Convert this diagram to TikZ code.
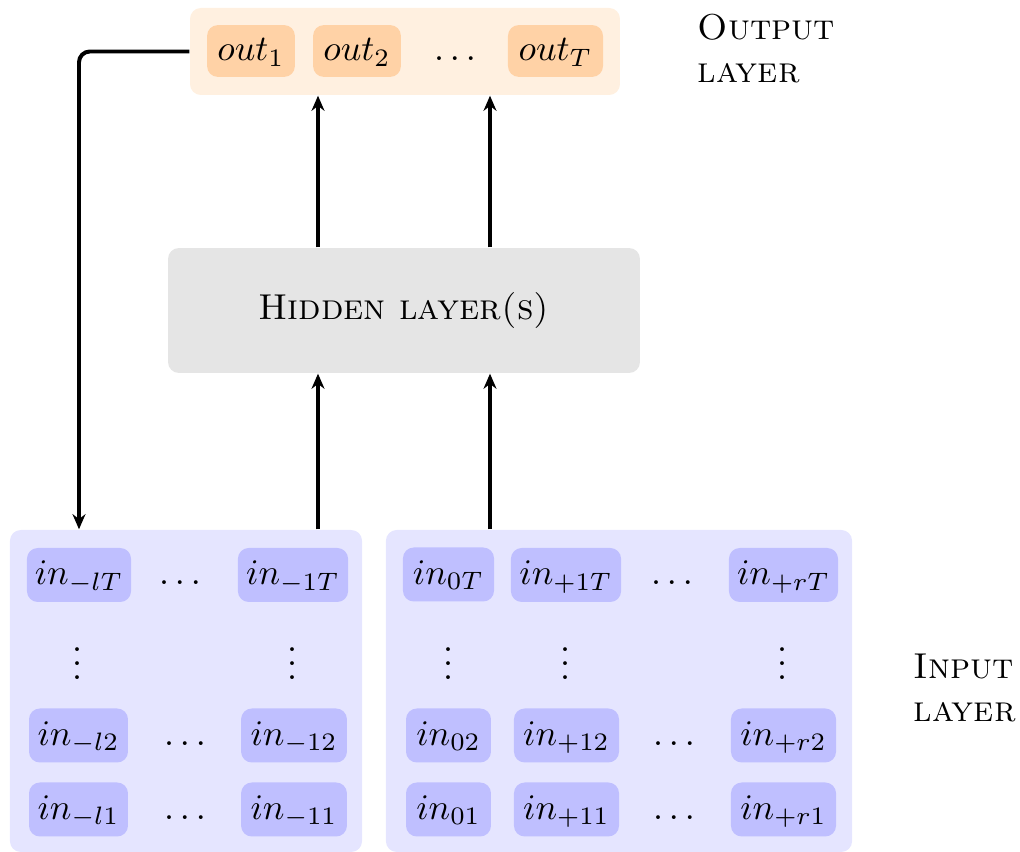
\documentclass[tikz,border=0pt]{standalone}
\usetikzlibrary{arrows.meta,calc}
\begin{document}
\begin{tikzpicture}[x=0.2778pt,y=-0.2778pt,
  cont/.style={rounded corners=3pt,inner sep=0pt},
  outc/.style={cont,fill=orange!12},
  inc/.style={cont,fill=blue!10},
  hid/.style={cont,fill=gray!20},
  cell/.style={rounded corners=3pt,inner xsep=2pt,inner ysep=0pt,text height=1.5ex,text depth=0.25ex},
  ocell/.style={cell,fill=orange!35,minimum height=14.4pt},
  icell/.style={cell,fill=blue!25,minimum height=15pt},
  dts/.style={inner sep=0pt,text height=1.5ex,text depth=0.25ex},
  vdts/.style={inner sep=0pt,anchor=base},
  lbl/.style={anchor=north west,align=left,inner sep=0pt},
  arr/.style={line width=1.1pt,-{Stealth[length=4.2pt,width=3.6pt]}}]
\useasboundingbox (0,0) rectangle (1020,852);
% containers
\node[outc,minimum width=119.45pt,minimum height=24.17pt] (outbox) at (405,51.5) {};
\node[hid,minimum width=131.1pt,minimum height=34.7pt] (hidden) at (404,310.5) {\textsc{Hidden layer(s)}};
\node[inc,minimum width=97.8pt,minimum height=89.45pt] (inleft) at (186,691) {};
\node[inc,minimum width=129.5pt,minimum height=89.45pt] (inright) at (619,691) {};
% output cells
\node[ocell,minimum width=24.4pt] (o1) at (251,51) {$out_1$};
\node[ocell,minimum width=24.4pt] (o2) at (357,51) {$out_2$};
\node[dts] (od) at (455,51) {$\dots$};
\node[ocell,minimum width=26.4pt] (oT) at (555.5,51) {$out_T$};
% left input cells
\node[icell,minimum width=28.9pt] (ilT) at (79,575) {$in_{-lT}$};
\node[dts] (dl1) at (180,575) {$\dots$};
\node[icell,minimum width=30.6pt] (i1T) at (293,575) {$in_{-1T}$};
\node[vdts] (vl1) at (78,680) {$\vdots$};
\node[vdts] (vl2) at (293,680) {$\vdots$};
\node[icell,minimum width=27.5pt] (il2) at (78.5,735.5) {$in_{-l2}$};
\node[dts] (dl2) at (185,735.5) {$\dots$};
\node[icell,minimum width=29.4pt] (i12) at (294,735.5) {$in_{-12}$};
\node[icell,minimum width=27.5pt] (il1) at (78.5,809.5) {$in_{-l1}$};
\node[dts] (dl3) at (185,809.5) {$\dots$};
\node[icell,minimum width=29.4pt] (i11) at (294,809.5) {$in_{-11}$};
% right input cells
\node[icell,minimum width=25.3pt] (i0T) at (448.5,574.5) {$in_{0T}$};
\node[icell,minimum width=30.6pt] (ip1T) at (566,575) {$in_{+1T}$};
\node[dts] (dr1) at (672,575) {$\dots$};
\node[icell,minimum width=30.3pt] (iprT) at (783.5,575) {$in_{+rT}$};
\node[vdts] (vr1) at (448,680) {$\vdots$};
\node[vdts] (vr2) at (566,680) {$\vdots$};
\node[vdts] (vr3) at (782,680) {$\vdots$};
\node[icell,minimum width=23.6pt] (i02) at (448.5,735.5) {$in_{02}$};
\node[icell,minimum width=29.2pt] (ip12) at (566.5,735.5) {$in_{+12}$};
\node[dts] (dr2) at (674,735.5) {$\dots$};
\node[icell,minimum width=29.2pt] (ipr2) at (783.5,735.5) {$in_{+r2}$};
\node[icell,minimum width=23.6pt] (i01) at (448.5,809.5) {$in_{01}$};
\node[icell,minimum width=29.2pt] (ip11) at (566.5,809.5) {$in_{+11}$};
\node[dts] (dr3) at (674,809.5) {$\dots$};
\node[icell,minimum width=29.2pt] (ipr1) at (783.5,809.5) {$in_{+r1}$};
% labels
\node[lbl] (outlbl) at (697,13) {\textsc{Output}\\\textsc{layer}};
\node[lbl] (inlbl) at (913,653) {\textsc{Input}\\\textsc{layer}};
% arrows
\coordinate (c1) at (318,0);
\coordinate (c2) at (490,0);
\draw[arr] (hidden.north -| c1) -- (outbox.south -| c1);
\draw[arr] (hidden.north -| c2) -- (outbox.south -| c2);
\draw[arr] (inleft.north -| c1) -- (hidden.south -| c1);
\draw[arr] (inright.north -| c2) -- (hidden.south -| c2);
\draw[arr,rounded corners=3pt] (outbox.west) -| (ilT.north |- inleft.north);
\end{tikzpicture}
\end{document}
